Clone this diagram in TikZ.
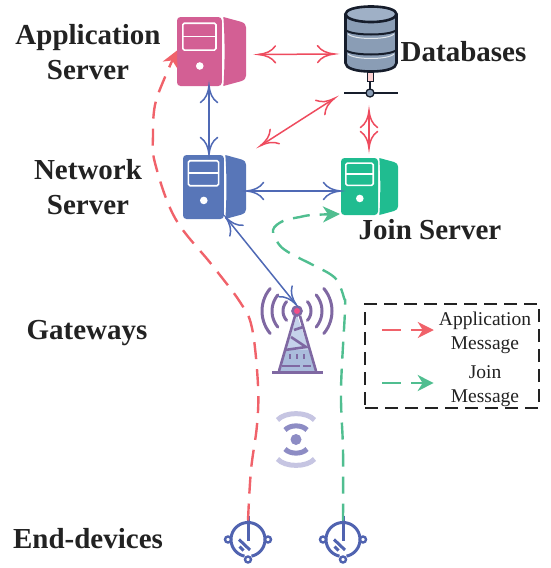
\documentclass[tikz,border=0pt]{standalone}
\usepackage{fontspec}
\setmainfont{Liberation Serif}
\usetikzlibrary{arrows.meta,calc}
\definecolor{redline}{HTML}{EE4B5E}
\definecolor{reddash}{HTML}{F0626A}
\definecolor{greendash}{HTML}{50BE90}
\definecolor{blueline}{HTML}{4F69B5}
\definecolor{appc}{HTML}{D35F94}
\definecolor{netc}{HTML}{5876B8}
\definecolor{joinc}{HTML}{20BC90}
\definecolor{dbbody}{HTML}{8A9DB5}
\definecolor{dbtop}{HTML}{9FB0C6}
\definecolor{dbdark}{HTML}{161D2B}
\definecolor{towerc}{HTML}{7F68A2}
\definecolor{towera}{HTML}{C5D2EA}
\definecolor{towerb}{HTML}{AABCDC}
\definecolor{wavea}{HTML}{8D8CC4}
\definecolor{waveb}{HTML}{C6C5E2}
\definecolor{devc}{HTML}{5063B0}
\definecolor{inkc}{HTML}{222222}
\pgfdeclarearrow{
  name=FlareBarb,
  setup code={\pgfarrowssettipend{0.5pt}\pgfarrowssetlineend{-0.5pt}\pgfarrowssetvisualbackend{-17pt}\pgfarrowssetbackend{-17pt}
    \pgfarrowshullpoint{-17pt}{8.5pt}\pgfarrowshullpoint{-17pt}{-8.5pt}\pgfarrowshullpoint{0pt}{0pt}},
  drawing code={\pgfsetdash{}{0pt}\pgfsetroundcap
    \pgfpathmoveto{\pgfqpoint{-17pt}{8.5pt}}
    \pgfpathcurveto{\pgfqpoint{-13pt}{3pt}}{\pgfqpoint{-8pt}{1pt}}{\pgfqpoint{0pt}{0pt}}
    \pgfpathcurveto{\pgfqpoint{-8pt}{-1pt}}{\pgfqpoint{-13pt}{-3pt}}{\pgfqpoint{-17pt}{-8.5pt}}
    \pgfusepathqstroke},
}
\tikzset{
  label/.style={font=\fontsize{29}{35.5}\selectfont\bfseries,text=inkc,align=center,inner sep=0pt},
  legtext/.style={font=\fontsize{19.5}{24}\selectfont,text=inkc,align=center,inner sep=0pt},
  iconbox/.style={inner sep=0pt,outer sep=0pt},
  redconn/.style={draw=redline,line width=1.5pt,{FlareBarb}-{FlareBarb}},
  blueconn/.style={draw=blueline,line width=1.5pt,{FlareBarb}-{FlareBarb}},
  dashred/.style={draw=reddash,line width=2.4pt,dash pattern=on 17pt off 10pt,-{Stealth[length=16pt,width=16pt,inset=5pt]}},
  dashgreen/.style={draw=greendash,line width=2.4pt,dash pattern=on 17pt off 10pt,-{Stealth[length=17pt,width=16pt,inset=5pt]}},
  legred/.style={draw=reddash,line width=2.4pt,dash pattern=on 19pt off 10pt,-{Stealth[length=16pt,width=16pt,inset=5pt]}},
  leggreen/.style={draw=greendash,line width=2.4pt,dash pattern=on 19pt off 10pt,-{Stealth[length=16pt,width=16pt,inset=5pt]}},
}
% #1 name, #2 left, #3 top, #4 width, #5 height, #6 colour
\newcommand{\srvicon}[6]{%
  \node[iconbox,minimum width=#4pt,minimum height=#5pt] (#1) at ({#2+#4/2},{#3+#5/2}) {};
  \begin{scope}[shift={(#2,#3)},x=#4pt,y=-#5pt]
    \fill[#6,rounded corners=3.5pt] (0,0) rectangle (.65,1);
    \fill[#6] (.672,0) -- (.93,.07) .. controls (.98,.09) and (1,.11) .. (1,.15) -- (1,.85)
      .. controls (1,.89) and (.98,.91) .. (.93,.93) -- (.672,1) .. controls (.695,.7) and (.695,.3) .. (.672,0) -- cycle;
    \draw[white,line width=1.6pt,rounded corners=1.5pt] (.085,.09) rectangle (.565,.48);
    \draw[white,line width=1.6pt] (.085,.285) -- (.565,.285);
    \fill[white] (.33,.71) circle[radius=3.8pt];
  \end{scope}}
% #1 name, #2 cx, #3 cy
\newcommand{\devicon}[3]{%
  \node[iconbox,minimum size=34pt] (#1) at (#2,#3) {};
  \begin{scope}[shift={(#2,#3)}]
    \draw[devc,line width=3pt] plot[domain=-78:258,samples=50] ({17*cos(\x)},{-17*sin(\x)});
    \draw[devc,line width=3pt] (0,-24) -- (0,1.5);
    \draw[devc,line width=3pt] (-9,0) -- (2,10.5);
    \draw[devc,line width=3pt] (-8.5,7) -- (-4.5,11);
    \draw[devc,line width=2.4pt,fill=white] (-20,0) circle[radius=3pt];
    \draw[devc,line width=2.4pt,fill=white] (20,0) circle[radius=3pt];
    \draw[devc,line width=2.4pt,fill=white] (0,20) circle[radius=3pt];
  \end{scope}}
\begin{document}
\begin{tikzpicture}[x=1pt,y=-1pt]
\useasboundingbox (0,0) rectangle (551,568);
% servers
\srvicon{app}{177}{17}{69}{69}{appc}
\srvicon{net}{183}{155}{63}{64}{netc}
\srvicon{join}{341}{158}{57}{57}{joinc}
% database
\node[iconbox,minimum width=52pt,minimum height=66pt] (db) at (371,39) {};
\fill[pink!70!white,draw=dbdark,line width=1pt] (367.5,72) rectangle (373,81);
\draw[dbdark,line width=1.2pt] (370,81) -- (370,90);
\draw[dbdark,line width=1.5pt] (344,93) -- (397.5,93);
\fill[dbbody,draw=dbdark,line width=1.3pt] (370,93) circle[radius=4pt];
\draw[dbdark,line width=2.6pt,fill=dbbody] (345.5,14) -- (345.5,63)
  .. controls (345.5,68) and (355,71.5) .. (371,71.5)
  .. controls (387,71.5) and (396.5,68) .. (396.5,63) -- (396.5,14);
\draw[dbdark,line width=2.6pt,fill=dbtop] (371,6.5) .. controls (387,6.5) and (396.5,10) .. (396.5,14)
  .. controls (396.5,18) and (387,22) .. (371,22) .. controls (355,22) and (345.5,18) .. (345.5,14)
  .. controls (345.5,10) and (355,6.5) .. (371,6.5) -- cycle;
\draw[dbdark,line width=2pt] (345.5,30) .. controls (352,36) and (390,36) .. (396.5,30);
\draw[dbdark,line width=2pt] (345.5,50) .. controls (352,56) and (390,56) .. (396.5,50);
\draw[white,line width=1pt,opacity=.75] (348,34) .. controls (354,40) and (388,40) .. (394,34);
\draw[white,line width=1pt,opacity=.75] (348,54) .. controls (354,60) and (388,60) .. (394,54);
% tower
\node[iconbox,minimum width=52pt,minimum height=67pt] (tower) at (297.5,339) {};
\fill[towera] (297,315) -- (278.5,371) -- (316.5,371) -- cycle;
\fill[towerb] (285,350) -- (278.5,371) -- (316.5,371) -- (310,350) -- cycle;
\draw[towerc,line width=2.6pt,line join=round] (279,371) -- (295,316);
\draw[towerc,line width=2.6pt,line join=round] (316,371) -- (300,316);
\draw[towerc,line width=2.6pt] (294,330) -- (303,327) (291,337) -- (306,347) -- (285,350);
\draw[towerc,line width=2.6pt] (290,354) -- (290,359) (297,354) -- (297,359) (304,354) -- (304,359);
\draw[towerc,line width=2.4pt] (282,366) -- (300,366) (303,366) -- (311,366);
\draw[towerc,line width=3pt] (272,372) -- (323,372);
\foreach \r/\a in {14/42,25/40,35/40}{
  \draw[towerc,line width=3pt,line cap=round] plot[domain=180-\a:180+\a,samples=15] ({297+\r*cos(\x)},{311+\r*sin(\x)});
  \draw[towerc,line width=3pt,line cap=round] plot[domain=-\a:\a,samples=15] ({297+\r*cos(\x)},{311+\r*sin(\x)});
}
\fill[reddash!80!magenta,draw=towerc,line width=2.6pt] (297,311) circle[radius=4.5pt];
% wireless waves
\node[iconbox,minimum width=40pt,minimum height=54pt] (wave) at (296,440) {};
\fill[wavea] (296,439.5) circle[radius=5.5pt];
\draw[wavea,line width=5pt] (285,430) .. controls (290,424.5) and (302,424.5) .. (307,430);
\draw[wavea,line width=5pt] (285,449) .. controls (290,454.5) and (302,454.5) .. (307,449);
\draw[waveb,line width=5pt] (277.5,420) .. controls (285,411.5) and (307,411.5) .. (314.5,420);
\draw[waveb,line width=5pt] (277.5,459) .. controls (285,467.5) and (307,467.5) .. (314.5,459);
% end devices
\devicon{devA}{248}{539.5}
\devicon{devB}{343}{539.5}
% connectors
\draw[redconn] ($(app.east)+(12,3)$) -- ($(db.west)+(-10,15)$);
\draw[redconn] ($(db.south west)+(-10,26)$) -- ($(net.north east)+(14,-9)$);
\draw[redconn] ($(db.south)+(-2,38)$) -- ($(join.north)+(-.5,-9)$);
\draw[blueconn] ($(app.south)+(-2.5,-1)$) -- ($(net.north)+(-5.5,0)$);
\draw[blueconn] ($(net.east)+(0,4)$) -- ($(join.west)+(0,4.5)$);
\draw[blueconn] ($(net.south)+(11,-2)$) -- ($(tower.north)+(-1,-.5)$);
\draw[dashred] plot[smooth,tension=.6] coordinates {($(devA.north)+(0,-2)$) (251,470) (257,425) (258,385) (252,328) (240,302) (212,265) (175,218) (155,163) (153,135) (155,105) (165,77) ($(app.west)+(0,-1)$)};
\draw[dashgreen] plot[smooth,tension=.6] coordinates {($(devB.north)+(0,-2)$) (343,450) (341,390) (345,310) (344,298) (338,282) (330,274) (313,265) (288,252) (278,243) (273,230) (283,221) (300,217) (312,215) ($(join.south west)+(-1,-1)$)};
% legend
\node[iconbox,draw=inkc,line width=1.8pt,dash pattern=on 13pt off 7pt,minimum width=174pt,minimum height=104pt] (legend) at (452,356) {};
\node[legtext] (legA) at (485,333) {Application\\Message};
\node[legtext] (legB) at (485,386) {Join\\Message};
\coordinate (ra) at (382,330);
\coordinate (ga) at (382,383);
\draw[legred] (ra) -- ($(legA.west)+(-5,-3)$);
\draw[leggreen] (ga) -- ($(legB.west)+(-17,-3)$);
% labels
\node[label] (lapp) at (88,52) {Application\\Server};
\node[label] (lnet) at (88,187) {Network\\Server};
\node[label] (ldb) at (463.5,52) {Databases};
\node[label] (ljoin) at (430,230) {Join Server};
\node[label] (lgw) at (87,333) {Gateways};
\node[label] (lend) at (88,539) {End-devices};
\end{tikzpicture}
\end{document}
